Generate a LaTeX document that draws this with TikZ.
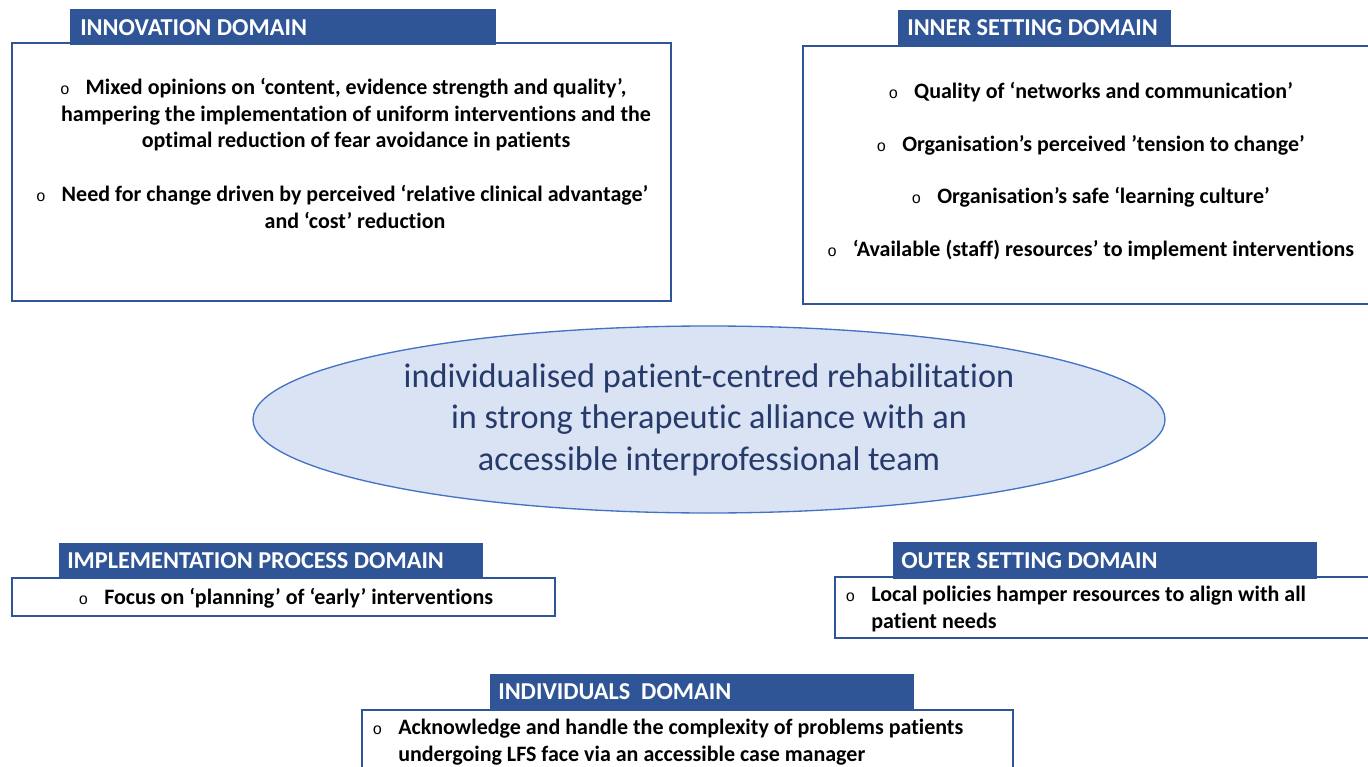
\documentclass[tikz,border=0pt]{standalone}
\usepackage{fontspec}
\setmainfont{Carlito}[Ligatures=NoCommon]
\newfontfamily\bulfont{Liberation Mono}
\usetikzlibrary{shapes.geometric}
\definecolor{hdr}{HTML}{2F5597}
\definecolor{bord}{HTML}{2F5597}
\definecolor{ellfill}{HTML}{DAE3F3}
\definecolor{elldraw}{HTML}{4472C4}
\definecolor{elltext}{HTML}{263A6B}
\newcommand{\bul}{\llap{{\bulfont\mdseries\fontsize{12}{12}\selectfont o}\hspace{12pt}}}
\tikzset{
  domainbox/.style={draw=bord, line width=1.5pt, fill=white},
  header/.style={fill=hdr},
  hdrtext/.style={text=white, font=\bfseries\fontsize{18.2}{20}\selectfont, anchor=west, inner sep=0},
  body/.style={font=\bfseries\fontsize{16.5}{19.9}\selectfont, inner sep=0, text=black},
}
\begin{document}
\begin{tikzpicture}[x=0.75pt,y=-0.75pt]
\useasboundingbox (0,0) rectangle (1368,767);
\clip (0,0) rectangle (1368,767);
\fill[white] (0,0) rectangle (1368,767);

% Innovation domain
\draw[domainbox] (12,43) rectangle (671,301);
\path[header] (70,9) rectangle (496,45);
\node[hdrtext] (innh) at (80,27.5) {INNOVATION DOMAIN};
\node[body, align=center] (inn1) at (356,115) {\bul Mixed opinions on ‘content, evidence strength and quality’,\\ hampering the implementation of uniform interventions and the\\ optimal reduction of fear avoidance in patients};
\node[body, align=center] (inn2) at (355,207) {\bul Need for change driven by perceived ‘relative clinical advantage’\\ and ‘cost’ reduction};

% Inner setting domain
\draw[domainbox] (803,46) rectangle (1380,304);
\path[header] (898,10) rectangle (1171,46);
\node[hdrtext] (insh) at (907,28) {INNER SETTING DOMAIN};
\node[body] (ins1) at (1103.5,92) {\bul Quality of ‘networks and communication’};
\node[body] (ins2) at (1103.5,145) {\bul Organisation’s perceived ’tension to change’};
\node[body] (ins3) at (1103.5,197) {\bul Organisation’s safe ‘learning culture’};
\node[body] (ins4) at (1103.5,250) {\bul ‘Available (staff) resources’ to implement interventions};

% Central ellipse
\node[ellipse, draw=elldraw, line width=1pt, fill=ellfill, minimum width=684pt, minimum height=140.25pt, inner sep=0, text=elltext, font=\fontsize{25.7}{31.1}\selectfont, align=center] (core) at (709,419.5) {individualised patient-centred rehabilitation\\ in strong therapeutic alliance with an\\ accessible interprofessional team};

% Implementation process domain
\draw[domainbox] (12,578) rectangle (555,616);
\path[header] (59,543) rectangle (483,579);
\node[hdrtext] (imph) at (67,561) {IMPLEMENTATION PROCESS DOMAIN};
\node[body, anchor=west] (imp1) at (104,598) {\bul Focus on ‘planning’ of ‘early’ interventions};

% Outer setting domain
\draw[domainbox] (835,577) rectangle (1380,638);
\path[header] (893,542) rectangle (1317,579);
\node[hdrtext] (outh) at (901,561) {OUTER SETTING DOMAIN};
\node[body, anchor=west, align=left] (out1) at (871,609) {\bul Local policies hamper resources to align with all\\ patient needs};

% Individuals domain
\draw[domainbox] (362,710) rectangle (1013,790);
\path[header] (490,674) rectangle (914,711);
\node[hdrtext] (indh) at (498,692) {INDIVIDUALS\ \ DOMAIN};
\node[body, anchor=west, align=left] (ind1) at (398,742) {\bul Acknowledge and handle the complexity of problems patients\\ undergoing LFS face via an accessible case manager};
\end{tikzpicture}
\end{document}
